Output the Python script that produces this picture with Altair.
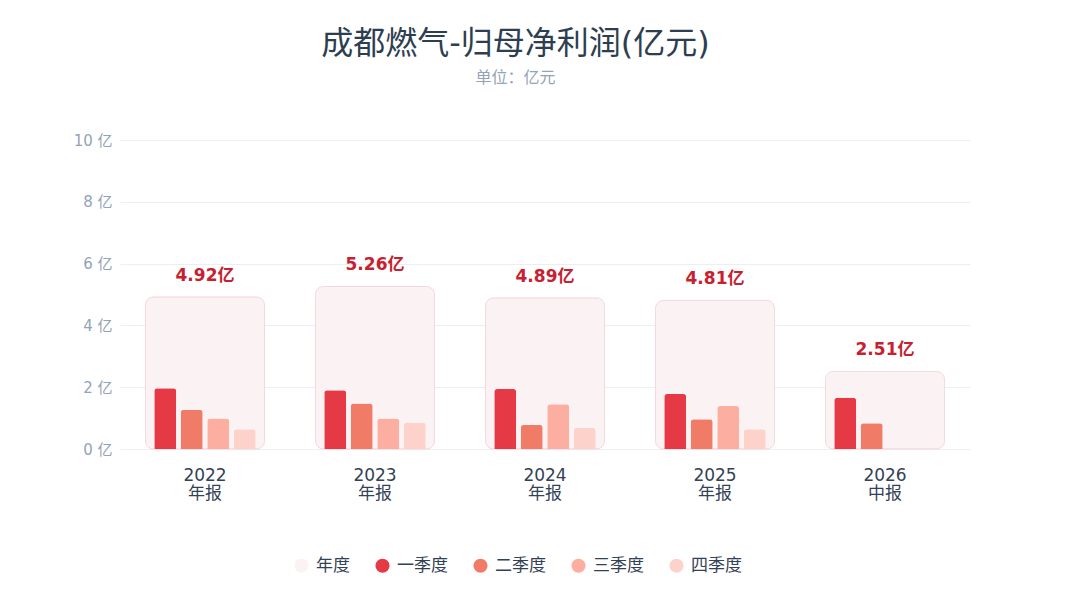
import altair as alt
import pandas as pd

periods = ["2022年报", "2023年报", "2024年报", "2025年报", "2026中报"]
annual = [4.92, 5.26, 4.89, 4.81, 2.51]
annual_labels = ["4.92亿", "5.26亿", "4.89亿", "4.81亿", "2.51亿"]
quarters = ["一季度", "二季度", "三季度", "四季度"]
q_values = [
    [1.97, 1.27, 0.99, 0.64],
    [1.90, 1.47, 0.99, 0.86],
    [1.94, 0.78, 1.45, 0.68],
    [1.78, 0.96, 1.39, 0.64],
    [1.66, 0.83, None, None],
]
series = ["年度"] + quarters
colors = ["#fbf2f4", "#e63946", "#f07b67", "#fcaea0", "#fdd2ca"]

annual_df = pd.DataFrame({"period": periods, "value": annual, "label": annual_labels, "series": "年度"})
rows = []
for p, vals in zip(periods, q_values):
    for q, v in zip(quarters, vals):
        if v is not None:
            rows.append({"period": p, "quarter": q, "value": v, "series": q})
q_df = pd.DataFrame(rows)

font = "DejaVu Sans, Noto Sans CJK SC, sans-serif"

x_enc = alt.X(
    "period:N",
    sort=periods,
    title=None,
    scale=alt.Scale(paddingInner=0.3, paddingOuter=0.15),
    axis=alt.Axis(
        labelExpr="[slice(datum.label,0,4), slice(datum.label,4)]",
        labelFontSize=17,
        labelColor="#334155",
        labelFont=font,
        labelPadding=26,
        labelLineHeight=18,
        labelBaseline="middle",
        ticks=False,
        domain=False,
        labelAngle=0,
    ),
)
y_enc = alt.Y(
    "value:Q",
    title=None,
    scale=alt.Scale(domain=[0, 10]),
    axis=alt.Axis(
        values=[0, 2, 4, 6, 8, 10],
        labelExpr="datum.value + ' 亿'",
        labelFontSize=15,
        labelColor="#94a3b8",
        labelFont=font,
        labelPadding=8,
        ticks=False,
        domain=False,
        gridColor="#eceef3",
    ),
)
color_enc = alt.Color(
    "series:N",
    scale=alt.Scale(domain=series, range=colors),
    legend=alt.Legend(
        title=None,
        orient="none",
        direction="horizontal",
        legendX=173,
        legendY=417,
        symbolType="circle",
        symbolSize=200,
        symbolStrokeWidth=0,
        labelFontSize=17,
        labelColor="#334155",
        labelFont=font,
        columnPadding=24,
        labelOffset=6,
    ),
)

annual_bars = alt.Chart(annual_df).mark_bar(
    cornerRadius=8, stroke="#f6d8de", strokeWidth=1
).encode(x=x_enc, y=y_enc, color=color_enc)

q_bars = alt.Chart(q_df).mark_bar(cornerRadiusTopLeft=3, cornerRadiusTopRight=3).encode(
    x=x_enc,
    y=y_enc,
    xOffset=alt.XOffset("quarter:N", sort=quarters, scale=alt.Scale(domain=quarters, paddingInner=0.17, paddingOuter=0.33)),
    color=color_enc,
)

labels = alt.Chart(annual_df).mark_text(
    dy=-21, fontSize=17, fontWeight="bold", color="#c8202f", font=font
).encode(x=alt.X("period:N", sort=periods), y="value:Q", text="label:N")

chart = alt.layer(annual_bars, q_bars, labels).properties(
    width=850,
    height=309,
    title=alt.TitleParams(
        text="成都燃气-归母净利润(亿元)",
        subtitle="单位：亿元",
        fontSize=32,
        color="#2d3e50",
        font=font,
        fontWeight="normal",
        subtitleFontSize=16,
        subtitleColor="#94a3b8",
        subtitleFont="Noto Sans CJK SC",
        subtitlePadding=9,
        anchor="middle",
        frame="bounds",
        offset=46,
        dx=-6,
    ),
    padding={"left": 65, "top": 20, "right": 100, "bottom": 10},
    background="white",
).configure_view(stroke=None)

chart.save("out.html", embed_options={"renderer": "svg", "actions": False})
